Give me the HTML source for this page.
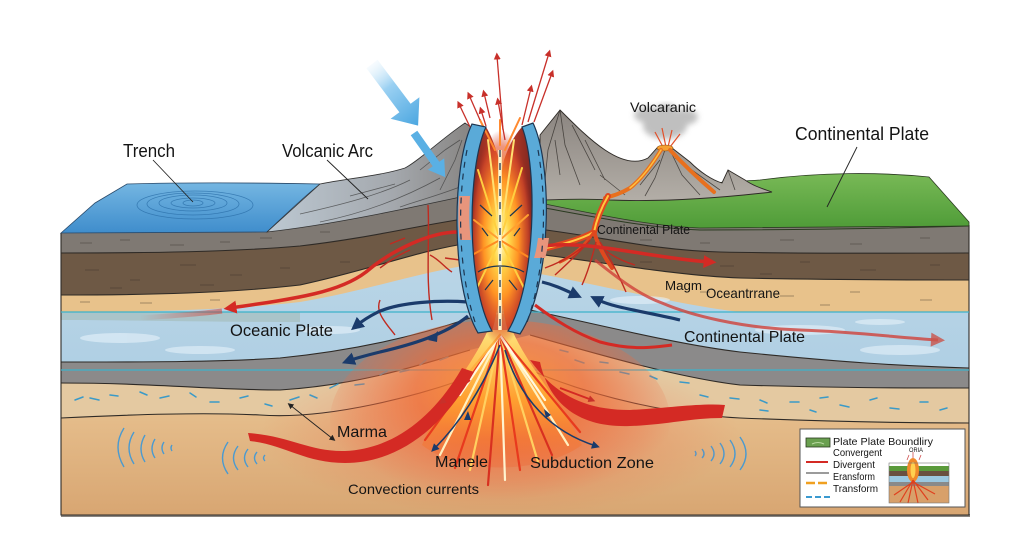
<!DOCTYPE html>
<html><head><meta charset="utf-8">
<style>
html,body{margin:0;padding:0;background:#fff;}
svg{display:block;}
text{font-family:"Liberation Sans",sans-serif;fill:#141414;}
</style></head><body>
<svg width="1024" height="559" viewBox="0 0 1024 559" xmlns="http://www.w3.org/2000/svg">
<defs>
 <linearGradient id="water" x1="0" y1="0" x2="0" y2="1"><stop offset="0" stop-color="#74b6e2"/><stop offset="1" stop-color="#3f8dcc"/></linearGradient>
 <linearGradient id="arc" x1="0" y1="0" x2="1" y2="0"><stop offset="0" stop-color="#bcc8d2"/><stop offset="0.6" stop-color="#a4a8ad"/><stop offset="1" stop-color="#85827f"/></linearGradient>
 <linearGradient id="mtn" x1="0" y1="0" x2="0" y2="1"><stop offset="0" stop-color="#8b8580"/><stop offset="1" stop-color="#b3aea7"/></linearGradient>
 <linearGradient id="mantle" x1="0" y1="0" x2="0" y2="1"><stop offset="0" stop-color="#ebc796"/><stop offset="1" stop-color="#d8a672"/></linearGradient>
 <linearGradient id="ocean" x1="0" y1="0" x2="0" y2="1"><stop offset="0" stop-color="#b9d5e6"/><stop offset="1" stop-color="#a2c7e1"/></linearGradient>
 <linearGradient id="green" x1="0" y1="0" x2="0" y2="1"><stop offset="0" stop-color="#78b956"/><stop offset="1" stop-color="#4f9c38"/></linearGradient>
 <radialGradient id="glow" cx="0.5" cy="0.35" r="0.55"><stop offset="0" stop-color="#ff9a30" stop-opacity="0.95"/><stop offset="0.45" stop-color="#f06a35" stop-opacity="0.7"/><stop offset="1" stop-color="#ec6a45" stop-opacity="0"/></radialGradient>
 <radialGradient id="glow2" cx="0.5" cy="0.5" r="0.5"><stop offset="0" stop-color="#ee5a3a" stop-opacity="0.45"/><stop offset="0.6" stop-color="#ee6a45" stop-opacity="0.25"/><stop offset="1" stop-color="#ee6a45" stop-opacity="0"/></radialGradient>
 <radialGradient id="core" cx="0.5" cy="0.5" r="0.5"><stop offset="0" stop-color="#fffbd6"/><stop offset="0.25" stop-color="#ffd84a"/><stop offset="0.55" stop-color="#ff9424"/><stop offset="0.85" stop-color="#e2502a" stop-opacity="0.6"/><stop offset="1" stop-color="#c83020" stop-opacity="0"/></radialGradient>
 <linearGradient id="lface" x1="0" y1="0" x2="1" y2="0"><stop offset="0" stop-color="#7e2620"/><stop offset="1" stop-color="#d4462a"/></linearGradient>
 <linearGradient id="rface" x1="1" y1="0" x2="0" y2="0"><stop offset="0" stop-color="#7e2620"/><stop offset="1" stop-color="#d4462a"/></linearGradient>
 <linearGradient id="fan" x1="0" y1="0" x2="0" y2="1"><stop offset="0" stop-color="#ffe37a"/><stop offset="0.5" stop-color="#ffa030"/><stop offset="1" stop-color="#f06030" stop-opacity="0.3"/></linearGradient>
 <linearGradient id="barrow" gradientUnits="userSpaceOnUse" x1="365" y1="55" x2="420" y2="125"><stop offset="0" stop-color="#ffffff" stop-opacity="0"/><stop offset="0.45" stop-color="#9ad0f2"/><stop offset="1" stop-color="#4aa6e0"/></linearGradient>
 <linearGradient id="fade" gradientUnits="userSpaceOnUse" x1="140" y1="0" x2="230" y2="0"><stop offset="0" stop-color="#d43a30" stop-opacity="0"/><stop offset="1" stop-color="#d43a30" stop-opacity="0.6"/></linearGradient>
 <filter id="blur"><feGaussianBlur stdDeviation="3"/></filter>
 <marker id="ar" viewBox="0 0 10 10" refX="5" refY="5" markerWidth="13" markerHeight="13" markerUnits="userSpaceOnUse" orient="auto"><path d="M0,0 L10,5 L0,10 Z" fill="#d42a24"/></marker>
 <marker id="ar2" viewBox="0 0 10 10" refX="5" refY="5" markerWidth="7" markerHeight="8" markerUnits="userSpaceOnUse" orient="auto"><path d="M0,0 L10,5 L0,10 Z" fill="#c8302a"/></marker>
 <marker id="ar3" viewBox="0 0 10 10" refX="5" refY="5" markerWidth="16" markerHeight="14" markerUnits="userSpaceOnUse" orient="auto"><path d="M0,0 L10,5 L0,10 Z" fill="#c9524a" fill-opacity="0.8"/></marker>
 <marker id="an" viewBox="0 0 10 10" refX="5" refY="5" markerWidth="13" markerHeight="13" markerUnits="userSpaceOnUse" orient="auto"><path d="M0,0 L10,5 L0,10 Z" fill="#1b3b6b"/></marker>
 <marker id="an2" viewBox="0 0 10 10" refX="5" refY="5" markerWidth="8" markerHeight="8" markerUnits="userSpaceOnUse" orient="auto"><path d="M0,0 L10,5 L0,10 Z" fill="#1b3b6b"/></marker>
 <marker id="ak" viewBox="0 0 10 10" refX="5" refY="5" markerWidth="6" markerHeight="6" markerUnits="userSpaceOnUse" orient="auto-start-reverse"><path d="M0,0 L10,5 L0,10 Z" fill="#222"/></marker>
</defs>

<rect width="1024" height="559" fill="#fff"/>

<rect x="61" y="514" width="909" height="3" fill="#8a8580"/>

<!-- LAYERS -->
<path d="M61,233 L267,232 C330,225 400,210 470,195 L540,203 C600,215 650,226 700,228 C800,228 900,226 969,225 L969,515 L61,515 Z" fill="#7f7973"/>
<path d="M61,253 C150,253 230,252 300,246 C370,238 420,225 470,218 L530,228 C600,236 650,250 720,252 C820,254 900,253 969,253 L969,515 L61,515 Z" fill="#6e5945"/>
<path d="M61,295 C150,295 230,293 300,285 C370,270 420,250 470,243 L530,253 C600,262 680,276 740,278 C840,280 900,280 969,280 L969,515 L61,515 Z" fill="#e8c28b"/>
<path d="M61,312 C150,312 230,310 300,302 C370,290 420,272 470,265 L530,272 C600,285 680,305 740,312 C840,312 900,312 969,312 L969,515 L61,515 Z" fill="url(#ocean)"/>
<path d="M61,312 L300,312 L300,322 C200,322 120,320 61,320 Z" fill="#a8c0c2" opacity="0.8"/>
<path d="M61,362 C150,362 220,362 280,358 C360,350 420,335 470,318 L530,310 C600,325 680,345 740,352 C840,362 900,366 969,368 L969,515 L61,515 Z" fill="#8b8a8a"/>
<path d="M61,383 C150,383 220,390 280,390 C360,385 420,365 470,350 L530,335 C600,355 680,378 740,385 C840,388 900,388 969,388 L969,515 L61,515 Z" fill="#e4c9a1"/>
<path d="M61,418 C120,415 200,412 260,415 C330,420 420,395 470,377 L530,370 C600,400 680,415 740,418 C840,422 900,423 969,423 L969,515 L61,515 Z" fill="url(#mantle)"/>

<g fill="#e6f2fa" opacity="0.6">
 <ellipse cx="120" cy="338" rx="40" ry="5"/><ellipse cx="200" cy="350" rx="35" ry="4"/><ellipse cx="330" cy="330" rx="30" ry="4"/>
 <ellipse cx="800" cy="330" rx="45" ry="5"/><ellipse cx="900" cy="350" rx="40" ry="5"/><ellipse cx="640" cy="300" rx="30" ry="4"/><ellipse cx="880" cy="322" rx="25" ry="3"/>
</g>

<g fill="none" stroke="#2e2a26" stroke-width="1.1">
 <path d="M61,253 C150,253 230,252 300,246 C370,238 420,225 470,218 M530,228 C600,236 650,250 720,252 C820,254 900,253 969,253"/>
 <path d="M61,295 C150,295 230,293 300,285 C370,270 420,250 470,243 M530,253 C600,262 680,276 740,278 C840,280 900,280 969,280"/>
 <path d="M61,362 C150,362 220,362 280,358 C360,350 420,335 470,318 M530,310 C600,325 680,345 740,352 C840,362 900,366 969,368"/>
 <path d="M61,383 C150,383 220,390 280,390 C360,385 420,365 470,350 M530,335 C600,355 680,378 740,385 C840,388 900,388 969,388"/>
 <path d="M61,418 C120,415 200,412 260,415 C330,420 420,395 470,377 M530,370 C600,400 680,415 740,418 C840,422 900,423 969,423"/>
 <path d="M61,233 L61,515 L969,515 L969,225"/>
</g>

<line x1="61" y1="312" x2="969" y2="312" stroke="#3cb2c9" stroke-width="1.3"/>
<line x1="61" y1="370" x2="969" y2="370" stroke="#3cb2c9" stroke-width="1.3"/>

<g stroke="#3a302a" stroke-width="0.8" opacity="0.55" fill="none">
 <path d="M80,243 h12 M120,240 h10 M170,245 h14 M220,242 h10 M260,238 h12 M320,232 h10 M640,240 h12 M700,243 h10 M780,240 h14 M850,244 h12 M920,238 h10"/>
 <path d="M85,270 h14 M130,280 h10 M180,265 h16 M230,275 h12 M280,268 h10 M110,288 h12 M340,262 h10 M200,285 h14 M640,262 h12 M720,266 h14 M800,262 h10 M860,270 h16 M930,265 h10 M760,274 h12"/>
 <path d="M80,302 h10 M140,303 h12 M210,300 h10 M700,292 h10 M780,296 h14 M850,292 h10 M920,300 h12 M820,305 h10"/>
</g>
<g stroke="#3a9ac8" stroke-width="1.5" fill="none" stroke-linecap="round">
 <path d="M75,400 l8,-3 M90,398 l9,2 M110,395 l8,1 M140,392 l7,3 M160,398 l9,-2 M190,393 l6,4 M210,402 l9,0 M240,398 l8,-2 M265,404 l7,2 M290,400 l9,-3 M310,395 l7,3 M330,388 l8,-4 M355,385 l9,-1 M380,375 l7,-4 M400,372 l9,-2 M420,365 l6,-5 M440,360 l8,-3"/>
 <path d="M560,350 l8,2 M575,360 l9,3 M600,362 l8,1 M620,372 l9,2 M650,376 l7,3 M680,382 l9,1 M700,395 l8,2 M730,398 l9,1 M760,400 l7,3 M790,402 l9,0 M820,398 l8,-1 M840,405 l9,2 M870,400 l7,-2 M890,408 l9,1 M920,402 l8,0 M940,410 l7,-2 M810,410 l6,2 M760,410 l8,1"/>
</g>

<g stroke="#4a9ad0" stroke-width="1.4" fill="none">
 <path d="M124,428 Q112,447 124,467 M134,432 Q124,448 134,464 M145,435 Q137,449 145,462 M155,439 Q149,449 155,458 M164,442 Q160,448 164,454 M172,445 Q170,448 172,451"/>
 <path d="M228,442 Q217,458 228,474 M238,446 Q229,458 238,470 M248,449 Q241,458 248,467 M257,452 Q252,458 257,464 M265,455 Q262,458 265,461"/>
 <path d="M740,437 Q752,454 740,470 M730,440 Q740,454 730,467 M720,443 Q728,454 720,464 M711,446 Q717,454 711,461 M702,449 Q706,454 702,458 M695,451 Q697,454 695,456"/>
</g>

<!-- GLOW & FOUNTAIN -->
<ellipse cx="500" cy="435" rx="240" ry="80" fill="url(#glow2)"/>
<ellipse cx="500" cy="420" rx="170" ry="100" fill="url(#glow)"/>
<path d="M488,330 C470,370 440,400 422,445 C460,475 540,475 582,445 C560,400 530,370 512,330 Z" fill="url(#fan)"/>
<g stroke-width="2.2" fill="none" stroke-linecap="round">
 <path d="M500,335 L425,440" stroke="#e83a1e"/>
 <path d="M500,335 L440,455" stroke="#fff0c0"/>
 <path d="M500,335 L455,468" stroke="#e83a1e"/>
 <path d="M500,335 L470,470" stroke="#ffd060"/>
 <path d="M500,335 L488,485" stroke="#d83020"/>
 <path d="M500,335 L505,480" stroke="#fff4d0"/>
 <path d="M500,335 L520,470" stroke="#e83a1e"/>
 <path d="M500,335 L538,462" stroke="#ffd060"/>
 <path d="M500,335 L552,455" stroke="#d83020"/>
 <path d="M500,335 L568,445" stroke="#fff0c0"/>
 <path d="M500,335 L580,432" stroke="#e83a1e"/>
 <path d="M500,335 L460,395" stroke="#fff8e0"/>
 <path d="M500,335 L545,400" stroke="#fff8e0"/>
 <path d="M500,335 L430,420" stroke="#ffb040"/>
</g>

<!-- BIG RED CURVED ARROWS -->
<path d="M248,433 C290,436 310,452 345,451 C395,449 435,415 462,368 L474,372 C445,425 400,463 345,463 C305,463 285,445 250,441 Z" fill="#d42a24"/>
<path d="M530,360 C555,395 585,410 630,410 C670,408 700,403 725,405 L722,418 C690,418 665,425 630,426 C575,428 548,400 540,362 Z" fill="#d42a24"/>
<path d="M470,380 L442,402" stroke="#d42a24" stroke-width="2" marker-end="url(#ar2)"/>
<path d="M560,388 L592,400" stroke="#d42a24" stroke-width="2" marker-end="url(#ar2)"/>

<path d="M500,345 C482,390 458,425 434,449" fill="none" stroke="#1b3b6b" stroke-width="1.6" marker-end="url(#an2)"/>
<path d="M505,350 C520,400 552,432 596,446" fill="none" stroke="#1b3b6b" stroke-width="1.6" marker-end="url(#an2)"/>
<path d="M464,420 l4,-9 l3,9 Z" fill="#1b3b6b"/>
<path d="M546,418 l-2,-9 l7,6 Z" fill="#1b3b6b"/>

<!-- LEFT TOP SURFACE -->
<path d="M61,233 L95,203 L127,184 C200,182 270,183 320,184 C300,200 285,215 267,232 Z" fill="url(#water)" stroke="#2a4a6a" stroke-width="0.8"/>
<g fill="none" stroke="#2a6ea8" stroke-width="0.8" opacity="0.75">
 <ellipse cx="193" cy="203" rx="10" ry="3"/><ellipse cx="193" cy="203" rx="22" ry="5"/><ellipse cx="193" cy="203" rx="34" ry="8"/><ellipse cx="193" cy="204" rx="46" ry="11"/><ellipse cx="195" cy="205" rx="58" ry="14"/>
</g>
<path d="M267,232 L320,184 C350,178 380,176 405,168 C420,160 440,140 465,123 L478,132 L470,195 C400,210 330,225 267,232 Z" fill="url(#arc)" stroke="#333" stroke-width="0.8"/>
<g fill="none" stroke="#3a3a3a" stroke-width="0.8" opacity="0.7">
 <path d="M300,214 C340,205 380,195 410,180 M320,222 C360,214 400,200 440,178 M350,196 L395,184 M420,170 L445,150 L460,140 M440,190 L455,160 L462,140 M400,207 C420,200 440,195 465,185"/>
</g>

<!-- RIGHT TOP SURFACE -->
<path d="M540,192 C600,188 680,185 760,180 C820,172 880,172 929,177 L969,222 L969,226 C900,226 800,228 700,228 C650,226 600,215 540,203 Z" fill="url(#green)" stroke="#2a3a20" stroke-width="0.8"/>
<path d="M545,208 C600,218 650,228 700,230 C800,230 900,228 969,226" fill="none" stroke="#2a3a20" stroke-width="1"/>
<path d="M540,135 L560,110 C575,125 590,140 605,150 C620,160 635,165 648,158 L657,148 L672,148 L690,162 C700,172 712,180 722,183 L728,170 L745,180 C752,185 760,188 772,192 C720,198 660,202 610,200 C580,198 555,200 540,200 Z" fill="url(#mtn)" stroke="#2e2a26" stroke-width="0.9"/>
<g fill="none" stroke="#2e2a26" stroke-width="0.8" opacity="0.75">
 <path d="M560,110 L565,145 L580,185 M560,110 L548,150 L545,180 M572,125 L595,170 M585,140 L605,180 M665,150 L655,178 L645,196 M670,150 L682,175 L700,195 M660,160 L640,185 M675,158 L720,190 M600,175 L625,195 M728,170 L735,190 M555,140 L560,175"/>
</g>
<g filter="url(#blur)" fill="#aaaaaa" opacity="0.75">
 <ellipse cx="665" cy="126" rx="22" ry="13"/><ellipse cx="648" cy="115" rx="14" ry="8"/><ellipse cx="684" cy="117" rx="14" ry="8"/><ellipse cx="666" cy="110" rx="10" ry="6"/>
</g>
<g stroke="#e2502a" stroke-width="1.2">
 <path d="M663,147 L655,132 M666,147 L662,128 M668,147 L672,130 M670,147 L680,134"/>
</g>
<ellipse cx="665" cy="148" rx="8" ry="3" fill="#f5a030" stroke="#8a4a10" stroke-width="0.6"/>
<g fill="none" stroke-linecap="round">
 <path d="M661,150 C650,168 640,180 630,188 C620,194 612,196 605,198" stroke="#e8701e" stroke-width="4"/>
 <path d="M670,150 C684,165 700,180 714,192" stroke="#e8701e" stroke-width="4"/>
 <path d="M661,150 C650,168 640,180 630,188" stroke="#ffc040" stroke-width="1.5"/>
</g>
<g fill="none" stroke-linecap="round">
 <path d="M608,196 C600,210 596,222 594,232 C580,240 560,245 538,250" stroke="#e0481e" stroke-width="6"/>
 <path d="M608,196 C600,210 596,222 594,232 C580,240 560,245 538,250" stroke="#ffc840" stroke-width="2"/>
 <path d="M594,232 C598,245 605,258 612,268" stroke="#e0481e" stroke-width="4"/>
 <path d="M594,232 C585,245 575,255 560,262" stroke="#e0481e" stroke-width="3"/>
</g>
<g fill="none" stroke="#c02a20" stroke-width="1.4">
 <path d="M590,240 C580,252 566,265 555,275 M596,242 C592,258 588,272 582,285 M600,242 C610,258 620,278 626,292 M585,245 C570,258 556,264 545,268 M605,250 C615,258 625,262 635,265"/>
 <path d="M428,205 C430,240 425,280 432,320 M410,250 C398,255 388,262 380,268 M430,255 C440,260 445,268 452,272 M380,300 C375,312 385,322 395,335 M405,238 L390,244 M460,260 L445,258"/>
</g>

<path d="M140,318 C170,316 200,314 222,311" fill="none" stroke="url(#fade)" stroke-width="5"/>
<path d="M458,232 C430,232 392,250 366,272 C340,292 300,298 230,308" fill="none" stroke="#d42a24" stroke-width="3.5" marker-end="url(#ar)"/>
<path d="M545,246 C590,240 650,258 710,262" fill="none" stroke="#d42a24" stroke-width="3.5" marker-end="url(#ar)"/>
<path d="M595,260 C620,280 640,295 662,303 C690,315 740,328 800,330 C860,332 900,338 938,340" fill="none" stroke="#d0413a" stroke-width="3" stroke-opacity="0.8" marker-end="url(#ar3)"/>
<path d="M535,305 C555,320 575,333 600,342 C630,350 650,348 672,345" fill="none" stroke="#d42a24" stroke-width="3"/>

<path d="M468,302 C440,300 400,302 378,312 C368,317 362,321 356,326" fill="none" stroke="#1b3b6b" stroke-width="3.2" marker-end="url(#an)"/>
<path d="M468,316 C445,335 410,345 380,352 C368,355 356,358 348,361" fill="none" stroke="#1b3b6b" stroke-width="3.2" marker-end="url(#an)"/>
<path d="M428,340 l10,-9 l-1,11 Z" fill="#1b3b6b"/>
<path d="M542,282 C555,285 565,290 576,295" fill="none" stroke="#1b3b6b" stroke-width="3.2" marker-end="url(#an)"/>
<path d="M680,320 C660,315 630,310 612,305 C605,303 600,301 596,299" fill="none" stroke="#1b3b6b" stroke-width="3.2" marker-end="url(#an)"/>

<!-- SLABS -->
<path d="M486,127 C467,168 466,285 492,331 C503,300 506,200 499,160 C495,145 490,133 486,127 Z" fill="url(#lface)"/>
<path d="M522,127 C538,168 536,285 508,331 C498,300 495,200 504,160 C509,145 516,133 522,127 Z" fill="url(#rface)"/>
<ellipse cx="501" cy="238" rx="32" ry="108" fill="url(#core)"/>
<g stroke-width="2" stroke-linecap="round" fill="none">
 <path d="M500,240 L478,170" stroke="#ffcf40"/><path d="M500,240 L522,168" stroke="#ffcf40"/>
 <path d="M500,240 L474,220" stroke="#ffa030"/><path d="M500,240 L528,215" stroke="#ffa030"/>
 <path d="M500,240 L476,290" stroke="#ffcf40"/><path d="M500,240 L526,292" stroke="#ffcf40"/>
 <path d="M500,240 L472,255" stroke="#ff8a20"/><path d="M500,240 L530,258" stroke="#ff8a20"/>
 <path d="M500,240 L488,140" stroke="#ffe070"/><path d="M500,240 L514,140" stroke="#ffe070"/>
 <path d="M495,150 L480,120 M505,150 L520,118 M500,145 L500,120" stroke="#ff8a30"/>
</g>
<path d="M500,150 L500,330" stroke="#fff6cc" stroke-width="3.5"/>
<path d="M500,150 L500,330" stroke="#1d3550" stroke-width="1.3" stroke-dasharray="7,6"/>
<g fill="none" stroke="#1d3550" stroke-width="1.2">
 <path d="M480,205 L492,216 M522,205 L510,216 M478,272 C490,264 510,264 524,272 M485,290 L493,280 M517,290 L509,280 M488,236 L482,228 M514,236 L520,228"/>
</g>
<path d="M472,124 C452,165 450,285 478,333 L492,331 C466,285 467,168 486,127 Z" fill="#5aaad8" stroke="#1d3550" stroke-width="1.2"/>
<path d="M533,123 C553,165 552,285 520,334 L508,331 C536,285 538,168 522,127 Z" fill="#5aaad8" stroke="#1d3550" stroke-width="1.2"/>
<path d="M459,196 C458,214 458,226 460,240 L471,240 C469,226 469,214 470,196 Z" fill="#e8957c"/>
<path d="M549,238 C548,245 547,252 545,258 L534,258 C536,252 537,245 538,238 Z" fill="#e8957c"/>
<path d="M467,150 C457,200 458,270 475,322" fill="none" stroke="#1d3550" stroke-width="1.2" stroke-dasharray="6,6"/>
<path d="M538,150 C547,200 546,270 527,322" fill="none" stroke="#1d3550" stroke-width="1.2" stroke-dasharray="6,6"/>

<g stroke="#c8302a" stroke-width="1.3" fill="none">
 <path d="M470,127 L459,104" marker-end="url(#ar2)"/>
 <path d="M480,120 L469,95" marker-end="url(#ar2)"/>
 <path d="M490,118 L484,93" marker-end="url(#ar2)"/>
 <path d="M486,126 L481,110" marker-end="url(#ar2)"/>
 <path d="M505,140 L498,101" marker-end="url(#ar2)"/>
 <path d="M503,130 L497,56" marker-end="url(#ar2)"/>
 <path d="M522,125 L531,88" marker-end="url(#ar2)"/>
 <path d="M528,122 L549,53" marker-end="url(#ar2)"/>
 <path d="M534,122 L552,73" marker-end="url(#ar2)"/>
</g>

<polygon points="366.4,68.2 377.6,59.8 410.6,103.8 419.4,97.3 418.1,125.6 390.6,118.7 399.4,112.2" fill="url(#barrow)"/>
<polygon points="417.3,130.7 410.7,135.3 432.7,166.3 427.8,169.8 445.2,177.1 444.2,158.2 439.3,161.7" fill="#5ab0e4"/>

<g stroke="#222" stroke-width="0.9" fill="none">
 <path d="M153,160 L193,202"/>
 <path d="M327,160 L368,199"/>
 <path d="M857,147 L827,207"/>
 <path d="M290,405 L333,439" marker-start="url(#ak)" marker-end="url(#ak)"/>
</g>

<text x="123" y="157" font-size="18" textLength="52" lengthAdjust="spacingAndGlyphs">Trench</text>
<text x="282" y="157" font-size="18" textLength="91" lengthAdjust="spacingAndGlyphs">Volcanic Arc</text>
<text x="630" y="112" font-size="14" textLength="66" lengthAdjust="spacingAndGlyphs">Volcaranic</text>
<text x="795" y="140" font-size="18" textLength="134" lengthAdjust="spacingAndGlyphs">Continental Plate</text>
<text x="597" y="234" font-size="12.5" textLength="93" lengthAdjust="spacingAndGlyphs" fill="#2a2420">Continental Plate</text>
<text x="665" y="290" font-size="12.5" textLength="37" lengthAdjust="spacingAndGlyphs">Magm</text>
<text x="706" y="298" font-size="14" textLength="74" lengthAdjust="spacingAndGlyphs">Oceantrrane</text>
<text x="230" y="336" font-size="17" textLength="103" lengthAdjust="spacingAndGlyphs">Oceanic Plate</text>
<text x="684" y="342" font-size="16" textLength="121" lengthAdjust="spacingAndGlyphs">Continental Plate</text>
<text x="337" y="437" font-size="16" textLength="50" lengthAdjust="spacingAndGlyphs">Marma</text>
<text x="435" y="467" font-size="16" textLength="53" lengthAdjust="spacingAndGlyphs">Manele</text>
<text x="530" y="468" font-size="16" textLength="124" lengthAdjust="spacingAndGlyphs">Subduction Zone</text>
<text x="348" y="494" font-size="14" textLength="131" lengthAdjust="spacingAndGlyphs">Convection currents</text>

<rect x="800" y="429" width="165" height="78" fill="#fff" stroke="#555" stroke-width="1"/>
<rect x="806" y="438" width="24" height="9" fill="#6aa050" stroke="#2a3a20" stroke-width="0.8"/>
<path d="M812,444 q6,-3 12,0" stroke="#b8d8a0" stroke-width="1" fill="none"/>
<line x1="806" y1="462" x2="828" y2="462" stroke="#d42a24" stroke-width="2"/>
<line x1="806" y1="473" x2="829" y2="473" stroke="#7a7a7a" stroke-width="1.5"/>
<line x1="806" y1="483" x2="829" y2="483" stroke="#f0a020" stroke-width="2.5" stroke-dasharray="9,3"/>
<line x1="806" y1="497" x2="831" y2="497" stroke="#3a9ad0" stroke-width="2" stroke-dasharray="6,3"/>
<text x="833" y="445" font-size="10.5" textLength="100" lengthAdjust="spacingAndGlyphs">Plate Plate Boundliry</text>
<text x="833" y="456" font-size="10" textLength="49" lengthAdjust="spacingAndGlyphs">Convergent</text>
<text x="833" y="468" font-size="10" textLength="42" lengthAdjust="spacingAndGlyphs">Divergent</text>
<text x="833" y="480" font-size="10" textLength="42" lengthAdjust="spacingAndGlyphs">Eransform</text>
<text x="833" y="492" font-size="10" textLength="45" lengthAdjust="spacingAndGlyphs">Transform</text>
<text x="909" y="452" font-size="6" fill="#3a7ac8" textLength="14" lengthAdjust="spacingAndGlyphs">ORIA</text>
<rect x="889" y="470" width="60" height="33" fill="#d8a06a"/>
<path d="M889,466 L949,466 L949,471 L889,471 Z" fill="#5a9a3a"/>
<rect x="889" y="471" width="60" height="5" fill="#6a5040"/>
<rect x="889" y="476" width="60" height="6" fill="#9cc8e0"/>
<rect x="889" y="482" width="60" height="4" fill="#8a8a8a"/>
<ellipse cx="913" cy="470" rx="6" ry="12" fill="#f08a2a"/>
<ellipse cx="913" cy="470" rx="2.5" ry="8" fill="#ffd050"/>
<g stroke="#e0401e" stroke-width="1.2" fill="none">
 <path d="M913,480 L900,502 M913,480 L908,503 M913,480 L918,503 M913,480 L928,500 M913,482 L894,495 M913,482 L935,494"/>
</g>
<path d="M907,460 l2,-5 M913,458 l0,-6 M919,460 l2,-5" stroke="#d05050" stroke-width="0.8"/>
<rect x="889" y="463" width="60" height="40" fill="none" stroke="#777" stroke-width="0.6"/>
</svg>
</body></html>
